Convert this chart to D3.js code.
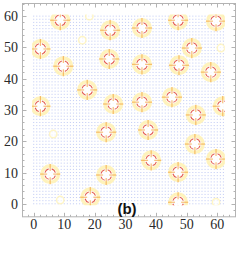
<!DOCTYPE html>
<html lang="en">
<head>
<meta charset="UTF-8">
<title>Spot lattice (b)</title>
<script src="https://d3js.org/d3.v7.min.js"></script>
<style>
    body { margin: 0; padding: 0; background: #fff; }
    svg { display: block; }
    .tick-label { font-family: "Liberation Serif", "DejaVu Serif", serif; font-size: 14px; fill: #2a2a2a; }
    .panel-label { font-family: "Liberation Sans", Arial, sans-serif; font-size: 15px; font-weight: bold; fill: #111; }
</style>
</head>
<body>
<div id="chart"></div>
<script>
    // spot centres (grid units)
    const spotX = [8.7, 47.2, 59.6, 25.0, 35.4, 2.2, 9.7, 24.7, 35.4, 47.5, 51.7, 57.9, 17.5, 2.2, 26.0,
                   35.4, 45.2, 61.8, 53.0, 23.7, 37.4, 52.7, 38.4, 59.6, 47.2, 47.2, 5.4, 23.7, 18.5];
    const spotY = [58.7, 58.7, 58.4, 55.5, 56.2, 49.5, 44.0, 46.3, 44.6, 44.3, 49.8, 42.1, 36.4, 31.2, 31.9,
                   32.5, 34.1, 31.2, 28.4, 22.9, 23.6, 19.1, 13.9, 14.3, 10.1, 0.5, 9.5, 9.2, 2.1];
    // faint (yellow only) spots
    const faintX = [18.2, 15.9, 61.2, 8.7, 59.6, 6.4];
    const faintY = [60.0, 52.3, 49.8, 1.2, 0.5, 22.3];

    const tickValues = [0, 10, 20, 30, 40, 50, 60];
    const gridNx = 62, gridNy = 60;

    const width = 246, height = 254;

    const svg = d3.select("#chart").append("svg")
        .attr("width", width)
        .attr("height", height);

    svg.append("rect").attr("width", width).attr("height", height).attr("fill", "#fff");

    const x = d3.scaleLinear().domain([-3.8, 65.8]).range([22, 235]);
    const y = d3.scaleLinear().domain([-4.0, 64.2]).range([216.3, 3]);
    const unit = x(1) - x(0);

    // lattice of pale blue dots
    const lattice = [];
    for (let i = 0; i <= gridNx; i++) {
        for (let j = 0; j <= gridNy; j++) lattice.push([i, j]);
    }
    svg.append("g").selectAll("rect")
        .data(lattice)
        .join("rect")
        .attr("x", d => x(d[0]) - 0.5)
        .attr("y", d => y(d[1]) - 0.5)
        .attr("width", 1.1)
        .attr("height", 1)
        .attr("fill", "#9eaeee")
        .attr("opacity", 0.6);

    svg.append("clipPath").attr("id", "gridClip")
        .append("rect")
        .attr("x", x(-0.5)).attr("y", y(gridNy + 0.5))
        .attr("width", x(gridNx + 0.5) - x(-0.5))
        .attr("height", y(-0.5) - y(gridNy + 0.5));

    const spotLayer = svg.append("g").attr("clip-path", "url(#gridClip)");

    const spots = spotX.map((v, i) => ({ x: v, y: spotY[i] }));
    const faint = faintX.map((v, i) => ({ x: v, y: faintY[i] }));

    // faint spots
    const fg = spotLayer.selectAll(".faint").data(faint).join("g")
        .attr("class", "faint")
        .attr("transform", d => `translate(${x(d.x)},${y(d.y)})`);
    fg.append("circle").attr("r", 1.4 * unit).attr("fill", "#fff").attr("opacity", 0.6);
    fg.append("circle").attr("r", 1.2 * unit).attr("fill", "none")
        .attr("stroke", "#ffee90").attr("stroke-width", 1.5).attr("opacity", 0.5);

    const g = spotLayer.selectAll(".spot").data(spots).join("g")
        .attr("class", "spot")
        .attr("transform", d => `translate(${x(d.x)},${y(d.y)})`);

    g.append("circle").attr("r", 3.3 * unit).attr("fill", "#fff").attr("opacity", 0.8);
    g.append("circle").attr("r", 2.7 * unit).attr("fill", "none")
        .attr("stroke", "#ffe25a").attr("stroke-width", 3.5).attr("opacity", 0.4);

    // cross petals
    [0, 90, 180, 270].forEach(a => {
        const r = a * Math.PI / 180;
        g.append("line")
            .attr("x1", Math.cos(r) * 1.0 * unit).attr("y1", Math.sin(r) * 1.0 * unit)
            .attr("x2", Math.cos(r) * 3.3 * unit).attr("y2", Math.sin(r) * 3.3 * unit)
            .attr("stroke", "#f4a23c").attr("stroke-width", 1.1).attr("opacity", 0.75);
    });

    // red arcs on the diagonals
    const arc = d3.arc().innerRadius(1.6 * unit).outerRadius(1.95 * unit);
    [45, 135, 225, 315].forEach(a => {
        const c = a * Math.PI / 180;
        g.append("path")
            .attr("d", arc({ startAngle: c - 0.5, endAngle: c + 0.5 }))
            .attr("fill", "#e04a3c")
            .attr("opacity", 0.9);
    });

    // frame and ticks
    const frame = svg.append("g").attr("stroke", "#b3b3b3").attr("stroke-width", 1).attr("fill", "none");
    const x0 = x.range()[0], x1 = x.range()[1], y0 = y.range()[0], y1 = y.range()[1];
    frame.append("rect").attr("x", x0 + 0.5).attr("y", y1 + 0.5)
        .attr("width", x1 - x0).attr("height", y0 - y1);

    const minor = d3.range(-2, 66, 2);
    minor.forEach(v => {
        const len = v % 10 === 0 ? 4 : 2;
        if (x(v) > x0 && x(v) < x1) {
            const px = Math.round(x(v)) + 0.5;
            frame.append("line").attr("x1", px).attr("x2", px).attr("y1", y0 + 0.5).attr("y2", y0 + 0.5 - len);
            frame.append("line").attr("x1", px).attr("x2", px).attr("y1", y1 + 0.5).attr("y2", y1 + 0.5 + len);
        }
        if (y(v) < y0 && y(v) > y1) {
            const py = Math.round(y(v)) + 0.5;
            frame.append("line").attr("y1", py).attr("y2", py).attr("x1", x0 + 0.5).attr("x2", x0 + 0.5 + len);
            frame.append("line").attr("y1", py).attr("y2", py).attr("x1", x1 + 0.5).attr("x2", x1 + 0.5 - len);
        }
    });

    svg.append("g").selectAll("text").data(tickValues).join("text")
        .attr("class", "tick-label")
        .attr("x", d => x(d))
        .attr("y", y0 + 13)
        .attr("text-anchor", "middle")
        .text(d => d);

    svg.append("g").selectAll("text").data(tickValues).join("text")
        .attr("class", "tick-label")
        .attr("x", x0 - 4)
        .attr("y", d => y(d) + 5)
        .attr("text-anchor", "end")
        .text(d => d);

    svg.append("text")
        .attr("class", "panel-label")
        .attr("x", x(30.5))
        .attr("y", 214)
        .attr("text-anchor", "middle")
        .text("(b)");
</script>
</body>
</html>
